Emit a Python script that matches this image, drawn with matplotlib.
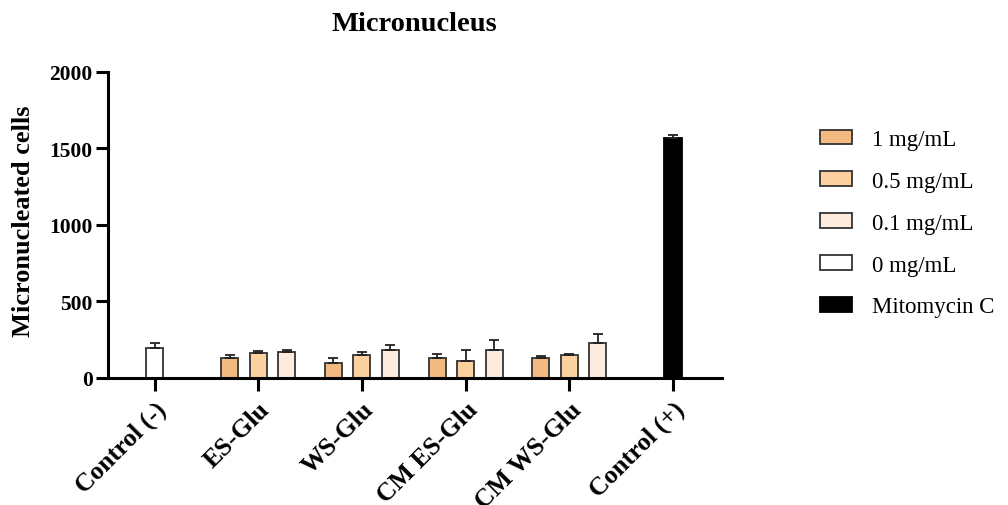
import numpy as np
import matplotlib.pyplot as plt
from matplotlib.patches import Patch

plt.rcParams['font.family'] = ['Liberation Serif', 'DejaVu Serif']

# -----------------------
# Data
# -----------------------
groups = ["Control (-)", "ES-Glu", "WS-Glu", "CM ES-Glu", "CM WS-Glu", "Control (+)"]
series = ["1 mg/mL", "0.5 mg/mL", "0.1 mg/mL", "0 mg/mL", "Mitomycin C"]

# treated groups: 1, 0.5, 0.1 mg/mL
treat_groups = [1, 2, 3, 4]
treat_mean = [
    [131, 162, 168],   # ES-Glu
    [97, 152, 183],    # WS-Glu
    [131, 111, 185],   # CM ES-Glu
    [133, 148, 230],   # CM WS-Glu
]
treat_err = [
    [20, 15, 15],
    [35, 20, 32],
    [26, 70, 65],
    [8, 8, 60],
]

neg_mean, neg_err = 195, 35      # Control (-), 0 mg/mL
pos_mean, pos_err = 1565, 22     # Control (+), Mitomycin C

colors = ["#F2B980", "#FDD09F", "#FDECDE", "#FFFFFF", "#000000"]

# -----------------------
# Layout
# -----------------------
step = 0.275
width = 0.165
edge = "#333333"
err_kw = dict(ecolor="#222222", elinewidth=1.3, capsize=3.6, capthick=1.3)

fig = plt.figure(figsize=(10.08, 5.06), dpi=100)
ax = fig.add_axes([0.107, 0.251, 0.609, 0.605])

# Control (-)
ax.bar(0, neg_mean, width, color=colors[3], edgecolor=edge, linewidth=1.3,
       yerr=[[0], [neg_err]], error_kw=err_kw, zorder=2)

# treated groups
for gi, means, errs in zip(treat_groups, treat_mean, treat_err):
    for j in range(3):
        ax.bar(gi + (j - 1) * step, means[j], width, color=colors[j],
               edgecolor=edge, linewidth=1.3,
               yerr=[[0], [errs[j]]], error_kw=err_kw, zorder=2)

# Control (+)
ax.bar(5, pos_mean, width, color=colors[4], edgecolor="black", linewidth=1.3,
       yerr=[[0], [pos_err]], error_kw=err_kw, zorder=2)

# -----------------------
# Axes styling
# -----------------------
ax.set_xlim(-0.45, 5.47)
ax.set_ylim(0, 2000)
ax.set_yticks([0, 500, 1000, 1500, 2000])
ax.set_xticks(range(len(groups)))
ax.set_xticklabels(groups, rotation=45, ha="right", va="top",
                   rotation_mode="anchor", fontsize=18.5, fontweight="bold")
for lab in ax.get_yticklabels():
    lab.set_fontsize(15.5)
    lab.set_fontweight("bold")

for s in ["top", "right"]:
    ax.spines[s].set_visible(False)
for s in ["left", "bottom"]:
    ax.spines[s].set_linewidth(2.2)
ax.tick_params(axis="both", width=2.2, length=9, direction="out")
ax.tick_params(axis="y", pad=2)
ax.tick_params(axis="x", pad=5)

ax.set_ylabel("Micronucleated cells", fontsize=19, fontweight="bold")
ax.yaxis.set_label_coords(-0.119, 0.515)
ax.set_title("Micronucleus", fontsize=20.5, fontweight="bold", pad=30)

handles = [Patch(facecolor=c, edgecolor=(edge if c != "#000000" else "black"), linewidth=1.3)
           for c in colors]
fig.legend(handles, series, loc="upper left", bbox_to_anchor=(0.8135, 0.743),
           frameon=False, fontsize=16.5, handlelength=1.4, handleheight=0.62,
           labelspacing=0.91, handletextpad=0.87, borderpad=0, borderaxespad=0)

fig.savefig("out.png", dpi=100)
